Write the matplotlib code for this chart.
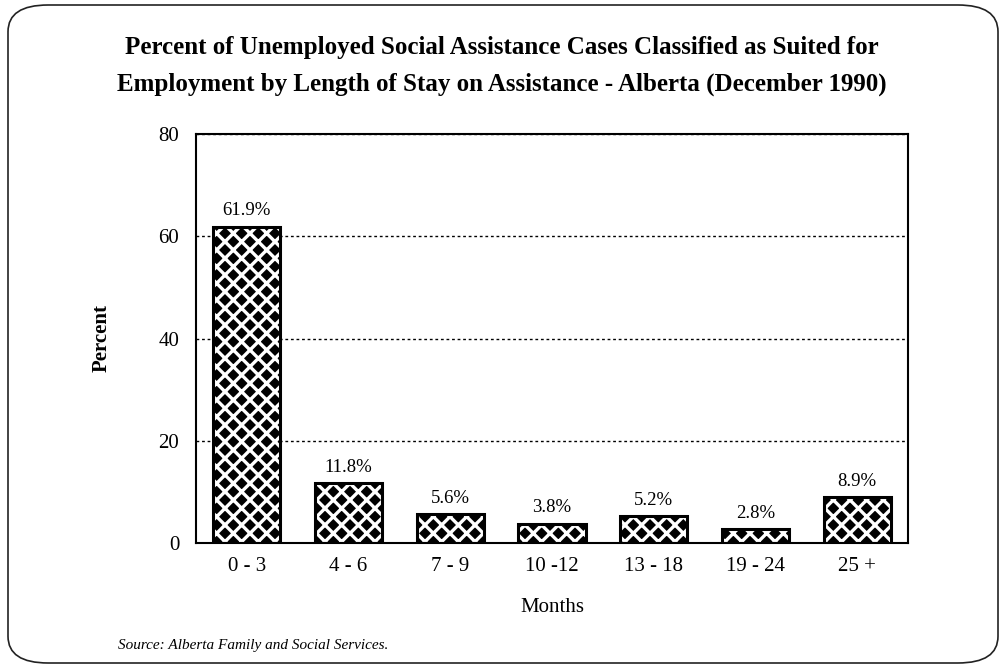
import matplotlib
matplotlib.use("Agg")
from matplotlib import pyplot as plt
from matplotlib.patches import FancyBboxPatch

months = ["0 - 3", "4 - 6", "7 - 9", "10 -12", "13 - 18", "19 - 24", "25 +"]
percent = [61.9, 11.8, 5.6, 3.8, 5.2, 2.8, 8.9]
yticks = [0, 20, 40, 60, 80]

plt.rcParams["font.family"] = ["Liberation Serif", "DejaVu Serif"]
plt.rcParams["hatch.linewidth"] = 2.4

fig = plt.figure(figsize=(10.03, 6.68), dpi=100)
ax = fig.add_axes([196 / 1003, 1 - 543 / 668, 712 / 1003, 409 / 668])

# rounded frame around the whole panel
frame = FancyBboxPatch((8 / 1003, 5 / 668), 990 / 1003, 658 / 668,
                       boxstyle="round,pad=0,rounding_size=0.04",
                       transform=fig.transFigure, fill=False,
                       edgecolor="#222222", linewidth=1.2)
fig.patches.append(frame)

x = range(len(months))
# black bars with white woven hatch, then outline on top
ax.bar(x, percent, width=0.66, color="black", edgecolor="white", hatch="xx",
       linewidth=0, zorder=2)
ax.bar(x, percent, width=0.66, facecolor="none", edgecolor="black",
       linewidth=2.2, zorder=3)

for xi, v in zip(x, percent):
    ax.text(xi, v + 1.4, f"{v:.1f}%", ha="center", va="bottom", fontsize=13.5)

ax.set_xlim(-0.5, 6.5)
ax.set_ylim(0, 80)
ax.set_yticks(yticks)
ax.set_xticks(list(x))
ax.set_xticklabels(months)
ax.tick_params(axis="both", length=0, labelsize=15)
ax.tick_params(axis="y", pad=12)
ax.tick_params(axis="x", pad=10)
ax.yaxis.grid(True, color="black", linestyle=(0, (2, 2)), linewidth=1)
ax.set_axisbelow(True)
for s in ax.spines.values():
    s.set_linewidth(1.5)

ax.set_ylabel("Percent", fontsize=15, fontweight="bold", labelpad=34)
ax.set_xlabel("Months", fontsize=15, labelpad=16)

fig.text(0.5, 1 - 66 / 668,
         "Percent of Unemployed Social Assistance Cases Classified as Suited for\n"
         "Employment by Length of Stay on Assistance - Alberta (December 1990)",
         ha="center", va="center", fontsize=18, fontweight="bold",
         linespacing=1.7)
fig.text(118 / 1003, 1 - 646 / 668, "Source: Alberta Family and Social Services.",
         ha="left", va="center", fontsize=11, style="italic")

fig.savefig("out.png", dpi=100)
